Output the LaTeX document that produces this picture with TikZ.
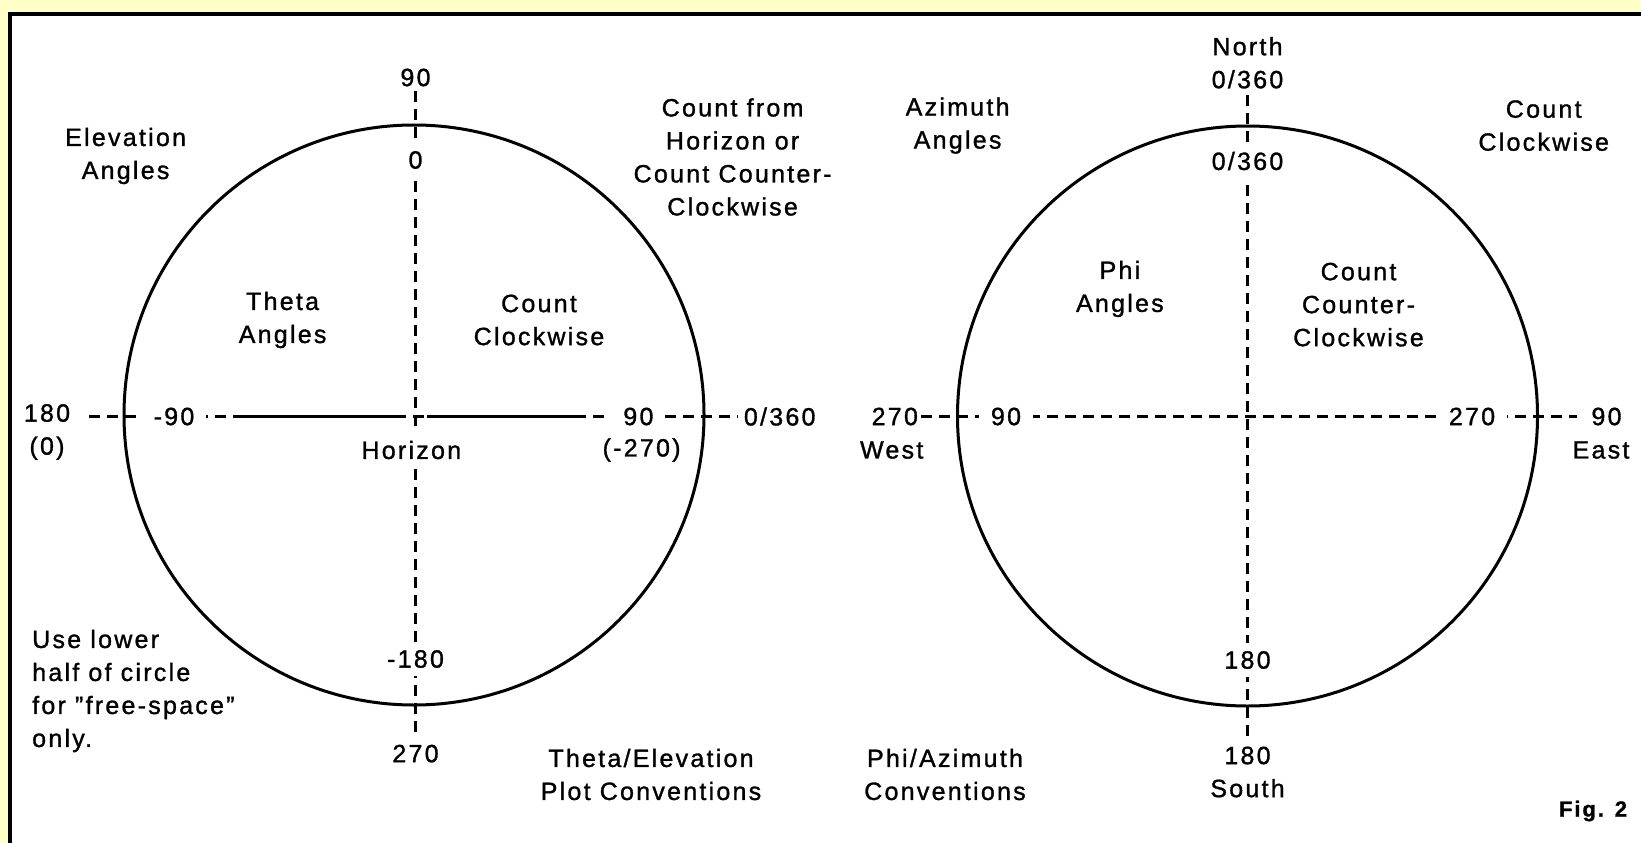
\documentclass[tikz,border=0pt]{standalone}
\usepackage{fontspec}
\setmainfont[LetterSpace=9,FakeBold=1.2]{Liberation Sans}
\definecolor{bgyellow}{RGB}{255,255,200}
\newcommand{\sq}{{\char"22}}
\begin{document}
\begin{tikzpicture}[x=1pt,y=-1pt,
  lbl/.style={font=\fontsize{25}{33}\selectfont, align=center, inner sep=2pt},
  cuth/.style={lbl, fill=white, inner xsep=12pt, inner ysep=3pt},
  cutv/.style={lbl, fill=white, inner xsep=3pt, inner ysep=8pt},
  axis/.style={line width=3pt, dash pattern=on 11pt off 7pt},
  solidaxis/.style={line width=3pt},
  ring/.style={circle, draw, line width=3pt, inner sep=0pt, minimum size=580pt}]
\useasboundingbox (0,0) rectangle (1641,843);
\fill[bgyellow] (0,0) rectangle (1641,843);
\fill[white] (10,14) rectangle (1641,843);
\draw[line width=4pt] (10,843) -- (10,14) -- (1641,14);

% ---------- left diagram ----------
\node[ring] (c1) at (414,415) {};
\coordinate (l-top) at (415,91);
\coordinate (l-bot) at (415,738);
\coordinate (l-left) at (89,416);
\coordinate (l-right) at (738,416);
\coordinate (l-s1a) at (238,416);
\coordinate (l-s1b) at (405,416);
\coordinate (l-s2a) at (427,416);
\coordinate (l-s2b) at (575,416);
\draw[axis] (l-top) -- (l-bot);
\draw[axis] (l-left) -- (l-right);
\draw[solidaxis] (l-s1a) -- (l-s1b);
\draw[solidaxis] (l-s2a) -- (l-s2b);

\node[lbl] (l90) at (415.5,77.5) {90};
\node[cutv] (l0) at (415.5,160) {0};
\node[lbl] (elev) at (125.6,156) {Elevation\\Angles};
\node[lbl] (cfh) at (732.6,157) {Count from\\Horizon or\\Count Counter-\\Clockwise};
\node[lbl] (theta) at (282.6,320) {Theta\\Angles};
\node[lbl] (lcw) at (539,320) {Count\\Clockwise};
\node[lbl] (l180) at (47,432) {180\\(0)};
\node[cuth] (lm90) at (174,416.5) {-90};
\node[cuth] (lp90) at (638.4,416.5) {90};
\node[lbl] (lm270) at (641.6,450) {(-270)};
\node[lbl] (l0360) at (779.7,416.5) {0/360};
\node[cutv] (hor) at (411.3,450) {Horizon};
\node[cutv] (lm180) at (415.5,659) {-180};
\node[lbl] (l270) at (415.5,753.6) {270};
\node[lbl, align=left, anchor=west] (use) at (30,691) {Use lower\\half of circle\\for \sq free-space\sq\\only.};
\node[lbl] (tec) at (651,774.5) {Theta/Elevation\\Plot Conventions};

% ---------- right diagram ----------
\node[ring] (c2) at (1247.5,416) {};
\coordinate (r-top) at (1247.5,95);
\coordinate (r-bot) at (1247.5,738);
\coordinate (r-left) at (921,416);
\coordinate (r-right) at (1577,416);
\draw[axis] (r-top) -- (r-bot);
\draw[axis] (r-left) -- (r-right);

\node[lbl] (north) at (1247.5,62.8) {North\\0/360};
\node[cutv] (r0360) at (1247.5,161) {0/360};
\node[lbl] (azim) at (957.6,125.6) {Azimuth\\Angles};
\node[lbl] (rcw) at (1543.7,125.6) {Count\\Clockwise};
\node[lbl] (phi) at (1119.9,288.9) {Phi\\Angles};
\node[lbl] (rccw) at (1358.5,304.6) {Count\\Counter-\\Clockwise};
\node[lbl] (r270) at (894.8,416.5) {270};
\node[lbl] (west) at (891.7,450) {West};
\node[cuth] (r90i) at (1006,416.5) {90};
\node[cuth] (r270i) at (1472,416.5) {270};
\node[lbl] (r90) at (1606.5,416.5) {90};
\node[lbl] (east) at (1601,450) {East};
\node[cutv] (r180i) at (1247.5,660) {180};
\node[lbl] (south) at (1247.5,772) {180\\South};
\node[lbl] (pac) at (945,774.5) {Phi/Azimuth\\Conventions};
\node[lbl, font=\fontsize{22}{28}\selectfont\bfseries] (fig) at (1593,811) {Fig. 2};
\end{tikzpicture}
\end{document}
